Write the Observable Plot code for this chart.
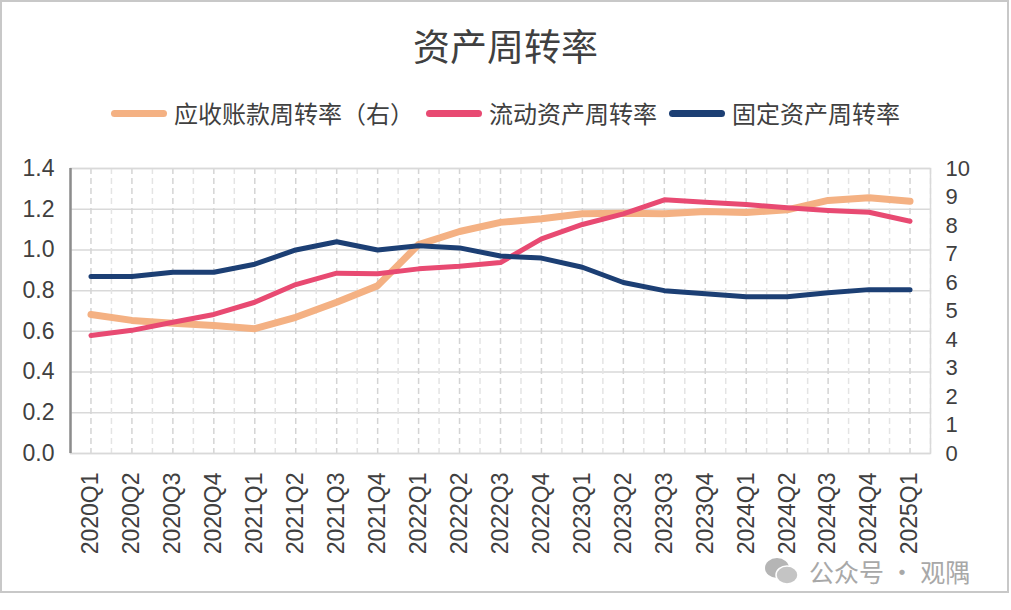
<!DOCTYPE html>
<html>
<head>
<meta charset="utf-8">
<script src="https://cdn.jsdelivr.net/npm/d3@7"></script>
<script src="https://cdn.jsdelivr.net/npm/@observablehq/plot@0.6"></script>
<style>
  body { margin: 0; background: #fff; }
  #wrap { position: relative; width: 1011px; height: 610px; background: #fff; overflow: hidden; }
  #frame { position: absolute; left: 0; top: 0; width: 1009px; height: 593px; border: 2px solid #c8c8c8; box-sizing: border-box; }
  #title { position: absolute; left: 0; width: 1011px; top: 21px; text-align: center; font-family: "Noto Sans CJK SC", sans-serif; font-size: 37px; color: #404040; line-height: 48px; }
  #legend { position: absolute; left: 0; width: 1011px; top: 97px; display: flex; justify-content: center; align-items: center; font-family: "Noto Sans CJK SC", sans-serif; font-size: 24px; color: #404040; line-height: 32px; }
  .item { display: flex; align-items: center; margin: 0 6px; }
  .sw { width: 56px; height: 7px; border-radius: 4px; margin-right: 7px; }
  #chart { position: absolute; left: 0; top: 150px; }
  #wm { position: absolute; left: 764px; top: 553px; font-family: "Noto Sans CJK SC", sans-serif; font-size: 25px; color: #a8a8a8; display: flex; align-items: center; }
  #wm svg { margin-right: 9px; }
</style>
</head>
<body>
<div id="wrap">
  <div id="frame"></div>
  <div id="title">资产周转率</div>
  <div id="legend"></div>
  <div id="chart"></div>
  <div id="wm"></div>
</div>
<script>
const quarters = ["2020Q1","2020Q2","2020Q3","2020Q4","2021Q1","2021Q2","2021Q3","2021Q4","2022Q1","2022Q2","2022Q3","2022Q4","2023Q1","2023Q2","2023Q3","2023Q4","2024Q1","2024Q2","2024Q3","2024Q4","2025Q1"];
// 应收账款周转率（右轴）
const receivableTurnover = [4.88,4.67,4.57,4.49,4.38,4.78,5.31,5.89,7.33,7.79,8.11,8.24,8.41,8.43,8.41,8.49,8.46,8.55,8.88,8.97,8.85];
// 流动资产周转率（左轴）
const currentAssetTurnover = [0.58,0.605,0.645,0.683,0.743,0.83,0.886,0.883,0.907,0.92,0.938,1.054,1.125,1.177,1.246,1.234,1.223,1.207,1.194,1.185,1.141];
// 固定资产周转率（左轴）
const fixedAssetTurnover = [0.87,0.87,0.89,0.89,0.93,1.00,1.04,1.00,1.02,1.01,0.97,0.96,0.915,0.84,0.80,0.785,0.77,0.77,0.79,0.805,0.805];
const seriesNames = ["应收账款周转率（右）","流动资产周转率","固定资产周转率"];
const seriesColors = ["#F4B183","#E84A72","#1C3F74"];
const leftTicks = [0,0.2,0.4,0.6,0.8,1.0,1.2,1.4];
const rightTicks = [0,1,2,3,4,5,6,7,8,9,10];

const leftMax = 1.4, rightMax = 10;
const ratio = leftMax / rightMax;

const idx = quarters.map((q, i) => i);
const bounds = d3.range(-0.5, quarters.length, 1);

const rows = (arr, scale) => arr.map((v, i) => ({i, q: quarters[i], v: v * scale}));

// legend
const legend = document.getElementById("legend");
seriesNames.forEach((n, k) => {
  const it = document.createElement("div");
  it.className = "item";
  it.innerHTML = `<div class="sw" style="background:${seriesColors[k]}"></div><span>${n}</span>`;
  legend.appendChild(it);
});

const plot = Plot.plot({
  width: 1011,
  height: 442,
  marginTop: 18,
  marginBottom: 139,
  marginLeft: 70,
  marginRight: 81,
  style: {fontFamily: "'Liberation Sans', Arial, sans-serif", fontSize: "23px", color: "#404040", background: "transparent"},
  x: {type: "linear", domain: [-0.5, quarters.length - 0.5]},
  y: {domain: [0, leftMax]},
  marks: [
    Plot.ruleY(leftTicks, {stroke: "#d9d9d9", strokeWidth: 1.5}),
    Plot.ruleX(bounds, {stroke: "#e4e4e4", strokeWidth: 1.5, strokeDasharray: "6,4"}),
    Plot.ruleX(idx, {stroke: "#d4d4d4", strokeWidth: 1.5, strokeDasharray: "6,4"}),
    Plot.frame({stroke: "#d9d9d9", strokeWidth: 1.5}),
    Plot.ruleX([-0.5], {stroke: "#8c8c8c", strokeWidth: 2.5}),
    Plot.lineY(rows(receivableTurnover, ratio), {x: "i", y: "v", stroke: seriesColors[0], strokeWidth: 7, strokeLinecap: "round", strokeLinejoin: "round"}),
    Plot.lineY(rows(currentAssetTurnover, 1), {x: "i", y: "v", stroke: seriesColors[1], strokeWidth: 5, strokeLinecap: "round", strokeLinejoin: "round"}),
    Plot.lineY(rows(fixedAssetTurnover, 1), {x: "i", y: "v", stroke: seriesColors[2], strokeWidth: 5, strokeLinecap: "round", strokeLinejoin: "round"}),
    Plot.axisY(leftTicks, {anchor: "left", tickSize: 0, tickPadding: 16, tickFormat: d3.format(".1f"), fontSize: 23, fill: "#404040", label: null}),
    Plot.text(rightTicks, {y: d => d * ratio, text: d => String(d), frameAnchor: "right", dx: 15, textAnchor: "start", fill: "#404040", fontSize: 22}),
    Plot.axisX(idx, {anchor: "bottom", tickSize: 0, tickPadding: 19, tickRotate: -90, tickFormat: i => quarters[i], fontSize: 23, fill: "#404040", label: null})
  ]
});
document.getElementById("chart").appendChild(plot);

// watermark
document.getElementById("wm").innerHTML = `<svg width="36" height="30" viewBox="0 0 36 30"><ellipse cx="13" cy="12" rx="12" ry="10" fill="#b5b5b5"/><ellipse cx="23" cy="19" rx="11" ry="9" fill="#c4c4c4" stroke="#fff" stroke-width="1.5"/></svg><span>公众号 · 观隅</span>`;
</script>
</body>
</html>
